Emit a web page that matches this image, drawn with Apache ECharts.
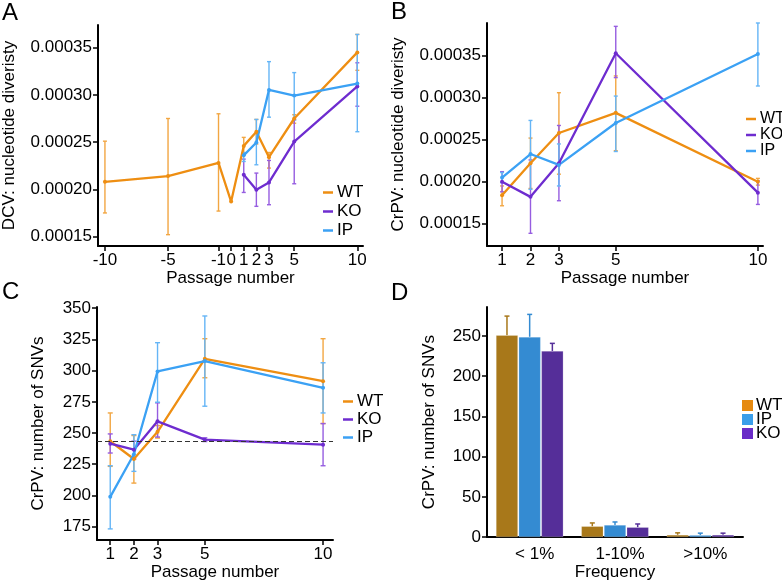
<!DOCTYPE html>
<html lang="en">
<head>
  <meta charset="UTF-8">
  <script src="https://cdn.jsdelivr.net/npm/echarts@6/dist/echarts.min.js"></script>
  <title>passage diversity</title>
  <style>
    html, body { margin: 0; padding: 0; background: #fff; }
    #main { width: 782px; height: 582px; }
  </style>
</head>
<body>
  <div id="main"></div>
  <script>
    // ---- data ----
    // A: DCV nucleotide diversity
    const passA = [-10, -5, -1, 0, 1, 2, 3, 5, 10];
    const passKOIP = [1, 2, 3, 5, 10];
    const aWT = [0.000208, 0.000214, 0.000228, 0.000187, 0.000246, 0.000261, 0.000234, 0.000275, 0.000345];
    const aWTlo = [0.000175, 0.000152, 0.000177, null, 0.000238, 0.000248, 0.0002225, 0.00027, 0.000326];
    const aWThi = [0.000251, 0.000275, 0.00028, null, 0.000255, 0.000274, 0.000239, 0.000279, 0.000364];
    const aKO = [0.0002154, 0.0001996, 0.0002073, 0.0002506, 0.000309];
    const aKOlo = [0.0001967, 0.000182, 0.0001837, 0.0002059, 0.000288];
    const aKOhi = [0.000232, 0.0002172, 0.0002306, 0.0002736, 0.000334];
    const aIP = [0.000236, 0.0002496, 0.0003053, 0.0002993, 0.000312];
    const aIPlo = [0.0002295, 0.000226, 0.0002764, 0.0002736, 0.000261];
    const aIPhi = [0.000239, 0.000274, 0.0003352, 0.0003236, 0.000364];

    // B: CrPV nucleotide diversity
    const passB = [1, 2, 3, 5, 10];
    const bWT = [0.000184, 0.000222, 0.000258, 0.000282, 0.0002];
    const bWTlo = [0.0001714, 0.000192, 0.000209, 0.000237, 0.000196];
    const bWThi = [0.000195, 0.000252, 0.000306, 0.000326, 0.000204];
    const bKO = [0.0002, 0.000182, 0.000222, 0.000353, 0.000187];
    const bKOlo = [0.000188, 0.0001386, 0.0001774, 0.000324, 0.000173];
    const bKOhi = [0.000212, 0.000226, 0.000267, 0.000385, 0.000201];
    const bIP = [0.000205, 0.000233, 0.00022, 0.00027, 0.000352];
    const bIPlo = [0.000199, 0.000191, 0.000195, 0.000236, 0.000314];
    const bIPhi = [0.000211, 0.000273, 0.000245, 0.000302, 0.000389];
    const bRef = 0.000215;

    // C: CrPV number of SNVs
    const passC = [1, 2, 3, 5, 10];
    const cWT = [243.4, 229.2, 251, 309.5, 291.6];
    const cWTlo = [223.3, 209.9, 246, 294.3, 257.6];
    const cWThi = [266.1, 248, 256, 325.6, 325.6];
    const cKO = [241.5, 236.7, 259.4, 244.7, 240.7];
    const cKOlo = [234, 229.2, 246.8, 243.2, 223.8];
    const cKOhi = [249.3, 243.5, 274.2, 246.2, 257.6];
    const cIP = [198.9, 233, 299.4, 307.7, 286.2];
    const cIPlo = [173.2, 219.3, 274.7, 271.5, 266.1];
    const cIPhi = [223.8, 248.7, 322.4, 343.8, 306.3];
    const cRef = 243.4;

    // D: SNVs by frequency
    const freqCats = ['< 1%', '1-10%', '>10%'];
    const dWT = [251, 13.5, 2.8];
    const dWThi = [274.7, 17.6, 5.3];
    const dIP = [248.9, 15.1, 2.5];
    const dIPhi = [276.8, 18.8, 4.9];
    const dKO = [231.3, 12.3, 2.8];
    const dKOhi = [240.8, 16.3, 4.9];

    const ticksA = [-10, -5, -1, 0, 1, 2, 3, 5, 10];
    const ticksPass = [1, 2, 3, 5, 10];
    const ticksDiv = [0.00015, 0.0002, 0.00025, 0.0003, 0.00035];
    const ticksSNV = [175, 200, 225, 250, 275, 300, 325, 350];
    const ticksD = [0, 50, 100, 150, 200, 250];

    // ---- styling ----
    const FONT = 'Liberation Sans, Arial, sans-serif';
    const FS = 17;
    const col = { WT: '#ee8e12', KO: '#6e2ccf', IP: '#3ba1f4' };
    const errCol = { WT: '#f2a642', KO: '#965de0', IP: '#65b5f6' };
    const barCol = { WT: '#a8781a', IP: '#348bd2', KO: '#552e99' };
    const legCol = { WT: '#e68a10', IP: '#3a9eea', KO: '#6a2cc8' };

    let chart = echarts.init(document.getElementById('main'));

    function pairs(xs, ys) {
      return xs.map((x, i) => [x, ys[i]]);
    }
    function triples(xs, lo, hi) {
      return xs.map((x, i) => [x, lo[i], hi[i]]).filter(d => d[1] != null);
    }

    // vertical error bar with caps
    function errRender(capW) {
      return function (params, api) {
        const x = api.value(0);
        const p1 = api.coord([x, api.value(1)]);
        const p2 = api.coord([x, api.value(2)]);
        const style = { stroke: api.visual('color'), lineWidth: 1.4 };
        return {
          type: 'group',
          children: [
            { type: 'line', shape: { x1: p1[0], y1: p1[1], x2: p2[0], y2: p2[1] }, style },
            { type: 'line', shape: { x1: p1[0] - capW, y1: p1[1], x2: p1[0] + capW, y2: p1[1] }, style },
            { type: 'line', shape: { x1: p2[0] - capW, y1: p2[1], x2: p2[0] + capW, y2: p2[1] }, style }
          ]
        };
      };
    }

    function valAxis(idx, min, max, ticks, name, gap, fmt) {
      return {
        type: 'value',
        gridIndex: idx,
        min, max,
        name,
        nameLocation: 'middle',
        nameGap: gap,
        nameTextStyle: { fontFamily: FONT, fontSize: FS, color: '#000' },
        axisLine: { show: true, onZero: false, lineStyle: { color: '#000', width: 2 } },
        axisTick: { show: true, length: 5, customValues: ticks, lineStyle: { color: '#000', width: 1.5 } },
        axisLabel: { customValues: ticks, color: '#000', fontFamily: FONT, fontSize: FS, margin: 6, formatter: fmt },
        splitLine: { show: false }
      };
    }

    const divFmt = v => v.toFixed(5);
    const intFmt = v => String(Math.round(v));

    function lineSeries(name, xi, data, color, extra) {
      return Object.assign({
        name, type: 'line', xAxisIndex: xi, yAxisIndex: xi, data,
        symbol: 'circle', symbolSize: 4, showSymbol: true,
        lineStyle: { color, width: 2.3 }, itemStyle: { color },
        emphasis: { disabled: true }, z: 3
      }, extra || {});
    }
    function errSeries(name, xi, data, color, capW) {
      return {
        name: name + ' err', type: 'custom', xAxisIndex: xi, yAxisIndex: xi,
        data, renderItem: errRender(capW), itemStyle: { color },
        encode: { x: 0, y: [1, 2] }, z: 2, silent: true
      };
    }

    // D bars: positions follow the bar layout below
    const catGap = 0.21, barGapR = 0.03;
    function barErrRender(k) {
      return function (params, api) {
        const band = api.size([1, 0])[0];
        const bw = band * (1 - catGap) / (3 + 2 * barGapR);
        const off = (k - 1) * bw * (1 + barGapR);
        const p0 = api.coord([api.value(0), api.value(1)]);
        const p1 = api.coord([api.value(0), api.value(2)]);
        const x = p0[0] + off;
        const style = { stroke: api.visual('color'), lineWidth: 1.5 };
        return {
          type: 'group',
          children: [
            { type: 'line', shape: { x1: x, y1: p0[1], x2: x, y2: p1[1] }, style },
            { type: 'line', shape: { x1: x - 2.5, y1: p1[1], x2: x + 2.5, y2: p1[1] }, style }
          ]
        };
      };
    }
    function barErr(name, k, vals, hi, color) {
      return {
        name: name + ' err', type: 'custom', xAxisIndex: 3, yAxisIndex: 3,
        data: vals.map((v, i) => [i, v, hi[i]]),
        renderItem: barErrRender(k), itemStyle: { color }, z: 1, silent: true
      };
    }
    function barSeries(name, vals, color) {
      return {
        name, type: 'bar', xAxisIndex: 3, yAxisIndex: 3, data: vals,
        barCategoryGap: (catGap * 100) + '%', barGap: (barGapR * 100) + '%',
        itemStyle: { color, borderColor: 'rgba(255,255,255,0.35)', borderWidth: 0.6 },
        emphasis: { disabled: true }, z: 2
      };
    }

    function lineLegend(left, top, fontSize, gap) {
      return {
        left, top, orient: 'vertical', selectedMode: false, padding: 0,
        icon: 'rect', itemWidth: 10, itemHeight: 2.5, itemGap: gap,
        textStyle: { fontFamily: FONT, fontSize, color: '#000', padding: [0, 0, 0, -1] },
        data: ['WT', 'KO', 'IP'].map(n => ({ name: n, itemStyle: { color: col[n] } }))
      };
    }

    const dashed = v => ({
      silent: true, symbol: 'none', label: { show: false },
      lineStyle: { color: '#333', type: [5, 3], width: 1 },
      data: [{ yAxis: v }]
    });

    const option = {
      animation: false,
      backgroundColor: '#fff',
      textStyle: { fontFamily: FONT },
      graphic: [
        { type: 'text', left: 2, top: 1, style: { text: 'A', font: '24px ' + FONT, fill: '#000' } },
        { type: 'text', left: 391, top: 0, style: { text: 'B', font: '24px ' + FONT, fill: '#000' } },
        { type: 'text', left: 2, top: 280, style: { text: 'C', font: '24px ' + FONT, fill: '#000' } },
        { type: 'text', left: 391, top: 281, style: { text: 'D', font: '24px ' + FONT, fill: '#000' } }
      ],
      grid: [
        { left: 97, right: 419, top: 25, bottom: 336 },
        { left: 487, right: 19, top: 23, bottom: 336 },
        { left: 97, right: 449, top: 307, bottom: 42 },
        { left: 487, right: 39, top: 307, bottom: 43.5 }
      ],
      legend: [
        lineLegend(323, 184, FS, 2),
        lineLegend(746, 111, 16, 0),
        lineLegend(343, 393, FS, 1),
        {
          left: 742, top: 397, orient: 'vertical', selectedMode: false, padding: 0,
          icon: 'rect', itemWidth: 11, itemHeight: 11, itemGap: -3,
          textStyle: { fontFamily: FONT, fontSize: FS, color: '#000', padding: [0, 0, 0, -2] },
          data: ['WT', 'IP', 'KO'].map(n => ({ name: n, itemStyle: { color: legCol[n] } }))
        }
      ],
      xAxis: [
        valAxis(0, -10.55, 10.45, ticksA, 'Passage number', 23, intFmt),
        valAxis(1, 0.47, 10.18, ticksPass, 'Passage number', 23, intFmt),
        valAxis(2, 0.44, 10.42, ticksPass, 'Passage number', 24, intFmt),
        {
          type: 'category', gridIndex: 3, data: freqCats,
          name: 'Frequency', nameLocation: 'middle', nameGap: 25,
          nameTextStyle: { fontFamily: FONT, fontSize: FS, color: '#000' },
          axisLine: { lineStyle: { color: '#000', width: 2 } },
          axisTick: { show: false },
          axisLabel: { color: '#000', fontFamily: FONT, fontSize: FS, margin: 9, padding: [0, 0, 0, 10] }
        }
      ],
      yAxis: [
        valAxis(0, 0.00014, 0.000374, ticksDiv, 'DCV: nucleotide diveristy', 80, divFmt),
        valAxis(1, 0.0001235, 0.000389, ticksDiv, 'CrPV: nucleotide diveristy', 80, divFmt),
        valAxis(2, 164.3, 351, ticksSNV, 'CrPV: number of SNVs', 50, intFmt),
        valAxis(3, 0, 286, ticksD, 'CrPV: number of SNVs', 49, intFmt)
      ],
      series: [
        // A
        lineSeries('WT', 0, pairs(passA, aWT), col.WT),
        lineSeries('KO', 0, pairs(passKOIP, aKO), col.KO),
        lineSeries('IP', 0, pairs(passKOIP, aIP), col.IP),
        errSeries('WT', 0, triples(passA, aWTlo, aWThi), errCol.WT, 2),
        errSeries('KO', 0, triples(passKOIP, aKOlo, aKOhi), errCol.KO, 2),
        errSeries('IP', 0, triples(passKOIP, aIPlo, aIPhi), errCol.IP, 2),
        // B
        lineSeries('WT', 1, pairs(passB, bWT), col.WT, { markLine: dashed(bRef) }),
        lineSeries('KO', 1, pairs(passB, bKO), col.KO),
        lineSeries('IP', 1, pairs(passB, bIP), col.IP),
        errSeries('WT', 1, triples(passB, bWTlo, bWThi), errCol.WT, 2),
        errSeries('KO', 1, triples(passB, bKOlo, bKOhi), errCol.KO, 2),
        errSeries('IP', 1, triples(passB, bIPlo, bIPhi), errCol.IP, 2),
        // C
        lineSeries('WT', 2, pairs(passC, cWT), col.WT, { markLine: dashed(cRef) }),
        lineSeries('KO', 2, pairs(passC, cKO), col.KO),
        lineSeries('IP', 2, pairs(passC, cIP), col.IP),
        errSeries('WT', 2, triples(passC, cWTlo, cWThi), errCol.WT, 2.5),
        errSeries('KO', 2, triples(passC, cKOlo, cKOhi), errCol.KO, 2.5),
        errSeries('IP', 2, triples(passC, cIPlo, cIPhi), errCol.IP, 2.5),
        // D
        barSeries('WT', dWT, barCol.WT),
        barSeries('IP', dIP, barCol.IP),
        barSeries('KO', dKO, barCol.KO),
        barErr('WT', 0, dWT, dWThi, barCol.WT),
        barErr('IP', 1, dIP, dIPhi, barCol.IP),
        barErr('KO', 2, dKO, dKOhi, barCol.KO)
      ]
    };

    chart.setOption(option);
  </script>
</body>
</html>
